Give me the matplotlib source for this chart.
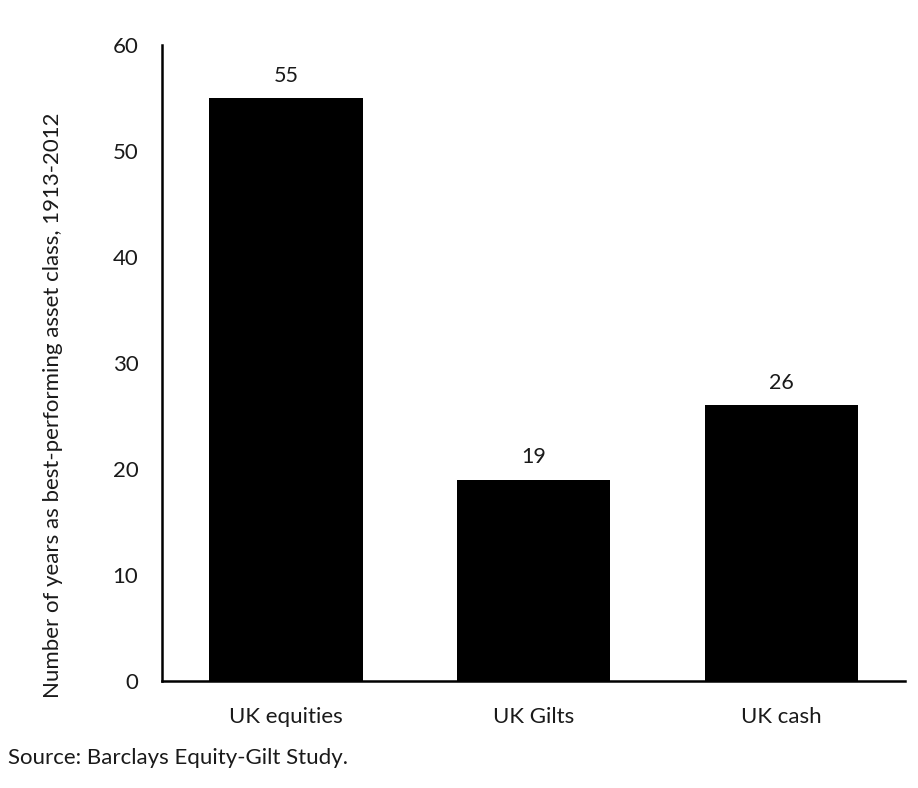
import matplotlib
matplotlib.use('Agg')
import matplotlib.pyplot as plt

categories = ['UK equities', 'UK Gilts', 'UK cash']
years_best = [55, 19, 26]
y_ticks = [0, 10, 20, 30, 40, 50, 60]

plt.rcParams['font.family'] = ['Lato', 'DejaVu Sans']

fig = plt.figure(figsize=(9.18, 7.88), dpi=100)
ax = fig.add_axes([0.1765, 0.1358, 0.8095, 0.807])

x = list(range(len(categories)))
bars = ax.bar(x, years_best, width=0.62, color='black')
for xi, v in zip(x, years_best):
    ax.annotate(str(v), (xi, v), xytext=(0, 9), textcoords='offset points',
                ha='center', va='bottom', fontsize=15.5, color='#1a1a1a')

ax.set_xlim(-0.5, 2.5)
ax.set_ylim(0, 60)
ax.set_yticks(y_ticks)
ax.set_xticks(x)
ax.set_xticklabels(categories)
ax.tick_params(axis='both', length=0, labelsize=16, colors='#1a1a1a')
ax.tick_params(axis='y', pad=17)
ax.tick_params(axis='x', pad=19)
for s in ['top', 'right']:
    ax.spines[s].set_visible(False)
for s in ['left', 'bottom']:
    ax.spines[s].set_linewidth(1.8)
ax.set_ylabel('Number of years as best-performing asset class, 1913-2012',
              fontsize=16, color='#1a1a1a')
ax.yaxis.set_label_coords(-0.133, 0.434)

fig.text(0.009, 0.025, 'Source: Barclays Equity-Gilt Study.', fontsize=16,
         color='#1a1a1a', ha='left', va='bottom')

fig.savefig('out.png', dpi=100)
